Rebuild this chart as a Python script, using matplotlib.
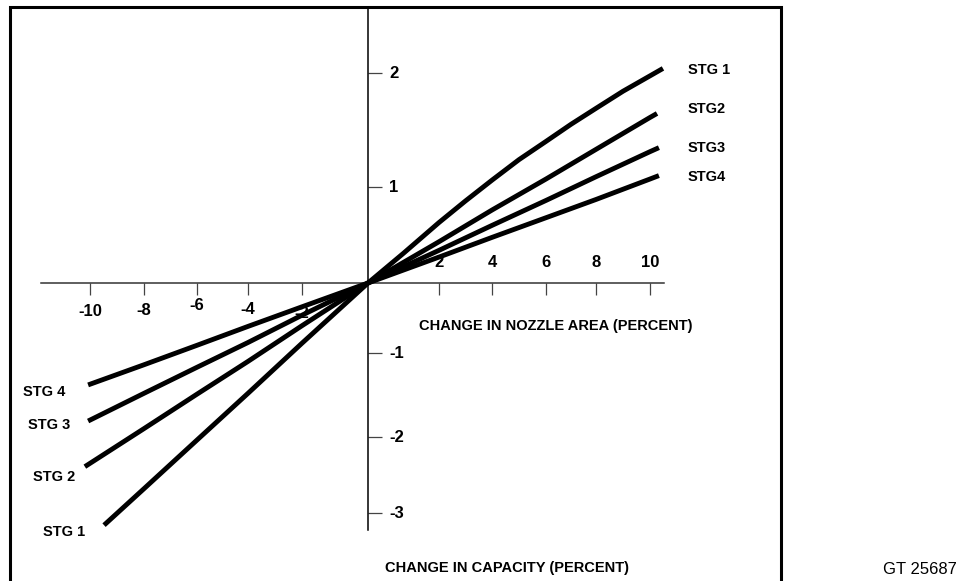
import numpy as np
import matplotlib
matplotlib.use("Agg")
import matplotlib.pyplot as plt
from matplotlib.patches import Rectangle

# --- data (in axis units) ---
nozzle_ticks = [-10, -8, -6, -4, -2, 2, 4, 6, 8, 10]
capacity_ticks = [-3, -2, -1, 1, 2]

stg1_x = [-9.48, -8, -6, -4, -2, 0, 1, 2, 3, 4, 5, 6, 7, 8, 9, 10, 10.48]
stg1_y = [-3.16, -2.68, -2.04, -1.48, -0.86, 0, 0.31, 0.63, 0.855, 1.06, 1.24, 1.40,
          1.55, 1.69, 1.84, 1.975, 2.04]

stg2_x = [-10.19, -8, -6, -4, -2, 0, 2, 4, 6, 8, 10, 10.26]
stg2_y = [-2.39, -1.90, -1.49, -1.10, -0.61, 0, 0.43, 0.76, 1.07, 1.33, 1.61, 1.645]

stg3_x = [-10.07, -8, -6, -4, -2, 0, 2, 4, 6, 8, 10, 10.33]
stg3_y = [-1.81, -1.48, -1.17, -0.85, -0.46, 0, 0.34, 0.60, 0.86, 1.09, 1.31, 1.345]

stg4_x = [-10.07, -8, -6, -4, -2, 0, 2, 4, 6, 8, 10, 10.33]
stg4_y = [-1.38, -1.14, -0.89, -0.62, -0.34, 0, 0.27, 0.475, 0.68, 0.87, 1.07, 1.10]

# --- layout: the hand drawn axes are not evenly spaced, so use a piecewise scale ---
W, H = 960, 581
xv = np.array([-100, -10, -8, -6, -4, -2, 0, 2, 4, 6, 8, 10, 100], float)
xp = np.array([90 - 90 * 27, 90, 144, 197, 248, 302, 368, 439, 492, 546, 596, 650, 650 + 90 * 27], float)
yv = np.array([-100, -3, -2, -1, 0, 1, 2, 100], float)
yp = np.array([513 + 97 * 76, 513, 437, 353, 283, 187, 73, 73 - 98 * 114], float)


def fx(v):
    return np.interp(v, xv, xp)


def fx_inv(p):
    return np.interp(p, xp, xv)


def fy(v):
    return H - np.interp(v, yv, yp)


def fy_inv(u):
    return np.interp(H - u, yp[::-1], yv[::-1])


plt.rcParams["font.family"] = ["Liberation Sans", "DejaVu Sans"]
plt.rcParams["font.weight"] = "bold"

fig = plt.figure(figsize=(9.6, 5.81), dpi=100)
ax = fig.add_axes([0, 0, 1, 1])
ax.set_xscale("function", functions=(fx, fx_inv))
ax.set_yscale("function", functions=(fy, fy_inv))
ax.set_xlim(fx_inv(0), fx_inv(W))
ax.set_ylim(fy_inv(0), fy_inv(H))
ax.patch.set_visible(False)

for s in ["top", "right"]:
    ax.spines[s].set_visible(False)
ax.spines["left"].set_position(("data", 0))
ax.spines["bottom"].set_position(("data", 0))
ax.spines["left"].set_bounds(fy_inv(H - 530), fy_inv(H - 8))
ax.spines["bottom"].set_bounds(fx_inv(41), fx_inv(664))
ax.spines["left"].set_linewidth(1.1)
ax.spines["bottom"].set_linewidth(1.1)
ax.spines["bottom"].set_color("#333333")

ax.set_xticks(nozzle_ticks)
ax.set_yticks(capacity_ticks)
ax.xaxis.set_minor_locator(plt.NullLocator())
ax.yaxis.set_minor_locator(plt.NullLocator())
ax.tick_params(axis="x", direction="out", length=8.5, width=0.9, color="#444444",
               labelbottom=False)
ax.tick_params(axis="y", direction="in", length=10, width=0.9, color="#444444",
               labelleft=False)

# tick labels, placed by hand like the drawing
neg_offsets = {-10: 28, -8: 27, -6: 22, -4: 26, -2: 30}
for v in nozzle_ticks:
    dy = -neg_offsets[v] if v < 0 else 21
    ax.annotate(str(v), xy=(v, 0), xytext=(0, dy), textcoords="offset pixels",
                ha="center", va="center", fontsize=12, zorder=1)
for v in capacity_ticks:
    ax.annotate(str(v), xy=(0, v), xytext=(21, 0), textcoords="offset pixels",
                ha="left", va="center", fontsize=12, zorder=1)

for xs, ys in [(stg1_x, stg1_y), (stg2_x, stg2_y), (stg3_x, stg3_y), (stg4_x, stg4_y)]:
    ax.plot(xs, ys, color="black", lw=3.5, solid_capstyle="butt",
            solid_joinstyle="round", zorder=3)

# curve labels
right_labels = [("STG 1", 70), ("STG2", 109), ("STG3", 148), ("STG4", 177)]
for txt, py in right_labels:
    fig.text(688 / W, 1 - py / H, txt, ha="left", va="center", fontsize=10.5)
left_labels = [("STG 4", 23, 392), ("STG 3", 28, 425), ("STG 2", 33, 477), ("STG 1", 43, 532)]
for txt, px, py in left_labels:
    fig.text(px / W, 1 - py / H, txt, ha="left", va="center", fontsize=10.5)

fig.text(419 / W, 1 - 326 / H, "CHANGE IN NOZZLE AREA (PERCENT)", ha="left", va="center",
         fontsize=10.5)
fig.text(507 / W, 1 - 568 / H, "CHANGE IN CAPACITY (PERCENT)", ha="center", va="center",
         fontsize=10.5)
fig.text(957 / W, 1 - 570 / H, "GT 25687", ha="right", va="center", fontsize=12,
         fontweight="normal", family=["Liberation Sans Narrow", "Liberation Sans"])

# frame around the drawing
fig.patches.append(Rectangle((10 / W, -0.1), (781 - 10) / W, 0.1 + (H - 7) / H,
                             transform=fig.transFigure, fill=False, lw=2.2,
                             edgecolor="black"))

fig.savefig("out.png", dpi=100)
